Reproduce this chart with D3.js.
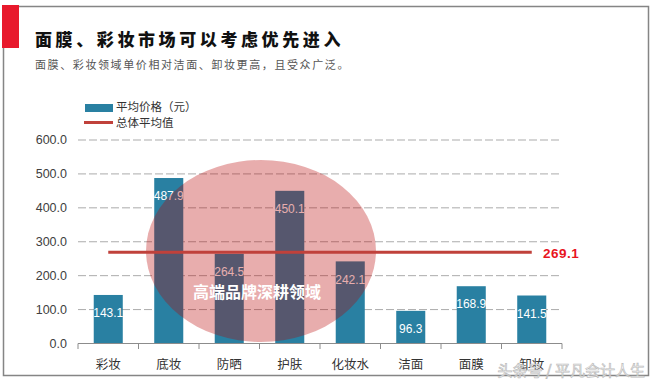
<!DOCTYPE html>
<html>
<head>
<meta charset="utf-8">
<script src="https://cdn.jsdelivr.net/npm/d3@7/dist/d3.min.js"></script>
<style>
  body { margin: 0; background: #fff; }
  svg { display: block; font-family: "Liberation Sans", Arial, sans-serif; }
</style>
</head>
<body>
<div id="chart"></div>
<script>
const categories = ['彩妆', '底妆', '防晒', '护肤', '化妆水', '洁面', '面膜', '卸妆'];
const avgPrice = [143.1, 487.9, 264.5, 450.1, 242.1, 96.3, 168.9, 141.5];
const overallAvg = 269.1;
const yTicks = [0, 100, 200, 300, 400, 500, 600];

const width = 656;
const height = 384;
const cjk = '"Noto Sans CJK SC", sans-serif';

const svg = d3.select('#chart')
  .append('svg')
  .attr('width', width)
  .attr('height', height);

// frame + red tab
svg.append('path')
  .attr('d', 'M18,6.5 H648.5 V375.5 H3.5 V48')
  .attr('fill', 'none')
  .attr('stroke', '#858585')
  .attr('stroke-width', 1.5);

svg.append('rect')
  .attr('x', 2).attr('y', 5)
  .attr('width', 17).attr('height', 43)
  .attr('fill', '#e8192c');

svg.append('text')
  .attr('x', 35).attr('y', 46)
  .attr('font-family', cjk)
  .attr('font-size', 17)
  .attr('font-weight', 900)
  .attr('letter-spacing', 3.6)
  .attr('fill', '#111')
  .text('面膜、彩妆市场可以考虑优先进入');

svg.append('text')
  .attr('x', 35).attr('y', 69)
  .attr('font-family', cjk)
  .attr('font-size', 11)
  .attr('letter-spacing', 1.6)
  .attr('fill', '#555')
  .text('面膜、彩妆领域单价相对洁面、卸妆更高，且受众广泛。');

const x = d3.scaleBand()
  .domain(categories)
  .range([78, 562]);

const y = d3.scaleLinear()
  .domain([0, 600])
  .range([343.5, 140]);

const barWidth = x.bandwidth() * 0.48;
const teal = '#2980a2';
const lineRed = '#c0413b';

// grid
svg.append('g')
  .selectAll('line')
  .data(yTicks.filter((t) => t > 0))
  .join('line')
  .attr('x1', 78)
  .attr('x2', 560)
  .attr('y1', (d) => y(d))
  .attr('y2', (d) => y(d))
  .attr('stroke', '#ababab')
  .attr('stroke-dasharray', '8,3');

// y labels
svg.append('g')
  .selectAll('text')
  .data(yTicks)
  .join('text')
  .attr('x', 67)
  .attr('y', (d) => y(d))
  .attr('dy', '0.35em')
  .attr('text-anchor', 'end')
  .attr('font-size', 12.5)
  .attr('fill', '#404040')
  .text((d) => d3.format('.1f')(d));

// bars
svg.append('g')
  .selectAll('rect')
  .data(avgPrice)
  .join('rect')
  .attr('x', (d, i) => x(categories[i]) + (x.bandwidth() - barWidth) / 2)
  .attr('y', (d) => y(d))
  .attr('width', barWidth)
  .attr('height', (d) => y(0) - y(d))
  .attr('fill', teal);

svg.append('g')
  .selectAll('text')
  .data(avgPrice)
  .join('text')
  .attr('x', (d, i) => x(categories[i]) + x.bandwidth() / 2)
  .attr('y', (d) => y(d) + 18)
  .attr('dy', '0.35em')
  .attr('text-anchor', 'middle')
  .attr('font-size', 12)
  .attr('fill', '#fff')
  .text((d) => d.toFixed(1));

// x axis
const axis = svg.append('g');
axis.append('line')
  .attr('x1', 78).attr('x2', 562)
  .attr('y1', 343.5).attr('y2', 343.5)
  .attr('stroke', '#8c8c8c');
axis.selectAll('.tick')
  .data(categories.concat([null]))
  .join('line')
  .attr('x1', (d, i) => 78 + i * x.step())
  .attr('x2', (d, i) => 78 + i * x.step())
  .attr('y1', 343.5).attr('y2', 349)
  .attr('stroke', '#8c8c8c');
axis.selectAll('text')
  .data(categories)
  .join('text')
  .attr('x', (d) => x(d) + x.bandwidth() / 2)
  .attr('y', 365)
  .attr('dy', '0.35em')
  .attr('text-anchor', 'middle')
  .attr('font-family', cjk)
  .attr('font-size', 12.5)
  .attr('fill', '#333')
  .text((d) => d);

// highlight ellipse
svg.append('ellipse')
  .attr('cx', 261).attr('cy', 251)
  .attr('rx', 115).attr('ry', 91)
  .attr('fill', '#b80000')
  .attr('fill-opacity', 0.32);

// average line
const firstC = x(categories[0]) + x.bandwidth() / 2;
const lastC = x(categories[categories.length - 1]) + x.bandwidth() / 2;
svg.append('line')
  .attr('x1', firstC).attr('x2', lastC)
  .attr('y1', y(overallAvg)).attr('y2', y(overallAvg))
  .attr('stroke', lineRed)
  .attr('stroke-width', 3);

svg.append('text')
  .attr('x', 543)
  .attr('y', y(overallAvg) + 1)
  .attr('dy', '0.35em')
  .attr('font-size', 13.5)
  .attr('font-weight', 700)
  .attr('letter-spacing', 0.5)
  .attr('fill', '#e8141e')
  .text(overallAvg.toFixed(1));

svg.append('text')
  .attr('x', 257).attr('y', 292)
  .attr('dy', '0.35em')
  .attr('text-anchor', 'middle')
  .attr('font-family', cjk)
  .attr('font-size', 16)
  .attr('font-weight', 700)
  .attr('fill', '#fff')
  .text('高端品牌深耕领域');

// legend
const legend = svg.append('g');
legend.append('rect')
  .attr('x', 85).attr('y', 104)
  .attr('width', 28).attr('height', 8)
  .attr('fill', teal);
legend.append('text')
  .attr('x', 116).attr('y', 106.5)
  .attr('dy', '0.35em')
  .attr('font-family', cjk)
  .attr('font-size', 11.5)
  .attr('fill', '#333')
  .text('平均价格（元）');
legend.append('line')
  .attr('x1', 84).attr('x2', 113)
  .attr('y1', 122.5).attr('y2', 122.5)
  .attr('stroke', lineRed)
  .attr('stroke-width', 3);
legend.append('text')
  .attr('x', 116).attr('y', 123)
  .attr('dy', '0.35em')
  .attr('font-family', cjk)
  .attr('font-size', 11.5)
  .attr('fill', '#333')
  .text('总体平均值');

// watermark
svg.append('text')
  .attr('x', 645).attr('y', 371)
  .attr('dy', '0.35em')
  .attr('text-anchor', 'end')
  .attr('font-family', cjk)
  .attr('font-size', 15)
  .attr('fill', '#fff')
  .attr('stroke', '#b5b5b5')
  .attr('stroke-width', 0.7)
  .attr('opacity', 0.9)
  .text('头条号 / 平凡会计人生');
</script>
</body>
</html>
